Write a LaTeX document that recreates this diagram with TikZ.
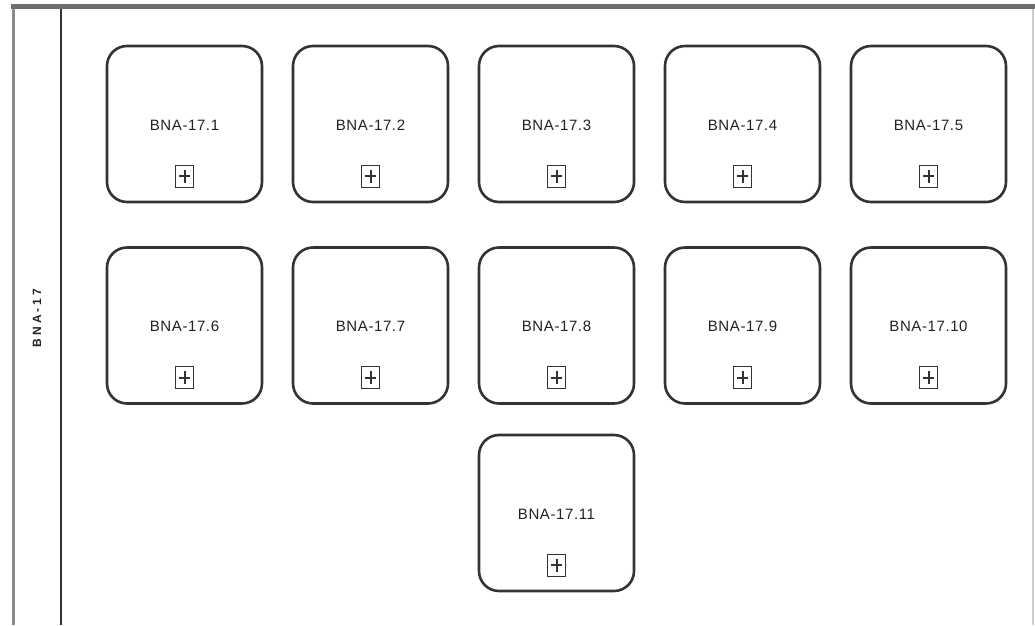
\documentclass[tikz,border=0pt]{standalone}
\usepackage{fontspec}
\setmainfont{Liberation Sans}
\definecolor{framegray}{HTML}{6E6E6E}
\definecolor{lanegray}{HTML}{8A8A8A}
\definecolor{boxline}{HTML}{333333}
\definecolor{txt}{HTML}{222222}
\tikzset{
  taskbox/.style={draw=boxline, line width=2.6pt, rounded corners=20pt, minimum width=155pt, minimum height=156pt, inner sep=0pt, fill=white},
  tasklabel/.style={font=\fontsize{15}{17}\selectfont\addfontfeature{LetterSpace=4}, text=txt, inner sep=0pt},
  plusbox/.style={draw=boxline, line width=1pt, minimum width=18pt, minimum height=22pt, inner sep=0pt},
  plussign/.style={draw=boxline, line width=2pt},
  lanelabel/.style={font=\bfseries\fontsize{12}{14}\selectfont\addfontfeature{LetterSpace=25}, rotate=90, text=txt, inner sep=0pt}
}
\begin{document}
\begin{tikzpicture}[x=1pt,y=-1pt]
\useasboundingbox (0,0) rectangle (1035,625);
% frame
\draw[lanegray, line width=3pt] (13,6) -- (13,625);
\draw[boxline, line width=2.4pt] (61,6) -- (61,625);
\draw[black!20, line width=1.5pt] (1033,6) -- (1033,625);
\draw[framegray, line width=5pt] (11,6) -- (1035,6);
\node[lanelabel] (lane) at (37,318) {BNA-17};
% boxes
\foreach \i/\x/\y in {1/184.5/124, 2/370.5/124, 3/556.5/124, 4/742.5/124, 5/928.5/124,
                      6/184.5/325.5, 7/370.5/325.5, 8/556.5/325.5, 9/742.5/325.5, 10/928.5/325.5,
                      11/556.5/513}{
  \node[taskbox] (b\i) at (\x,\y) {};
  \node[tasklabel] (t\i) at ([yshift=-1pt]b\i.center) {BNA-17.\i};
  \node[plusbox] (p\i) at ([yshift=-52pt]b\i.center) {};
  \draw[plussign] ([yshift=-5pt]p\i.north) -- ([yshift=5pt]p\i.south);
  \draw[plussign] ([xshift=4pt]p\i.west) -- ([xshift=-4pt]p\i.east);
}
\end{tikzpicture}
\end{document}
